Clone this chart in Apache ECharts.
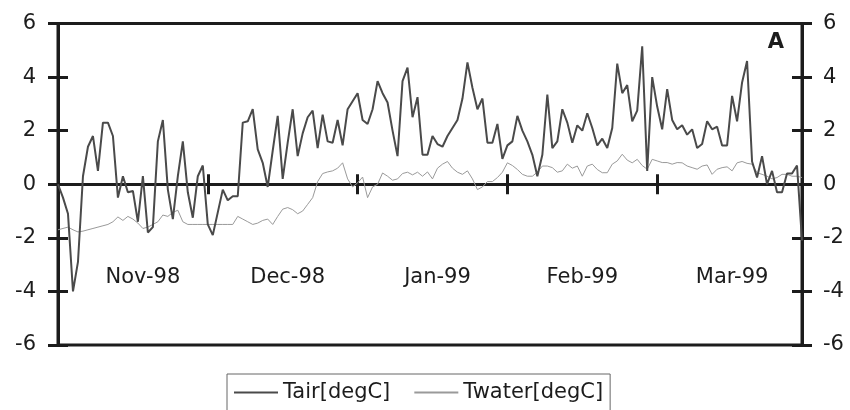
<!DOCTYPE html>
<html><head><meta charset="utf-8">
<script src="https://cdn.jsdelivr.net/npm/echarts@6/dist/echarts.min.js"></script>
<style>html,body{margin:0;padding:0;background:#fff}#c{width:850px;height:410px}</style>
</head><body><div id="c"></div>
<script>
// Daily values, 1 Nov 1998 onwards (150 days)
const tair = [
  0.0, -0.5, -1.1, -4.0, -2.9, 0.3, 1.4, 1.8, 0.5, 2.3,
  2.3, 1.8, -0.5, 0.3, -0.3, -0.25, -1.4, 0.3, -1.8, -1.6,
  1.6, 2.4, -0.2, -1.3, 0.3, 1.6, -0.3, -1.25, 0.3, 0.7,
  -1.5, -1.9, -1.05, -0.2, -0.6, -0.45, -0.45, 2.3, 2.35, 2.8,
  1.3, 0.8, -0.1, 1.25, 2.55, 0.2, 1.55, 2.8, 1.05, 1.9,
  2.5, 2.75, 1.35, 2.6, 1.6, 1.55, 2.4, 1.45, 2.8, 3.1,
  3.4, 2.4, 2.25, 2.8, 3.85, 3.4, 3.05, 2.0, 1.05, 3.85,
  4.35, 2.5, 3.25, 1.1, 1.1, 1.8, 1.5, 1.4, 1.8, 2.1,
  2.4, 3.2, 4.55, 3.6, 2.8, 3.2, 1.55, 1.55, 2.25, 0.95,
  1.45, 1.6, 2.55, 2.0, 1.6, 1.1, 0.3, 1.1, 3.35, 1.35,
  1.6, 2.8, 2.3, 1.55, 2.2, 2.0, 2.65, 2.1, 1.45, 1.7,
  1.35, 2.1, 4.5, 3.4, 3.7, 2.35, 2.75, 5.15, 0.5, 4.0,
  2.9, 2.05, 3.55, 2.4, 2.05, 2.2, 1.85, 2.05, 1.35, 1.5,
  2.35, 2.05, 2.15, 1.45, 1.45, 3.3, 2.35, 3.8, 4.6, 0.85,
  0.25, 1.05, 0.0, 0.5, -0.3, -0.3, 0.4, 0.4, 0.7, -2.1
];
const twater = [
  -1.7, -1.65, -1.6, -1.7, -1.78, -1.75, -1.7, -1.65, -1.6, -1.55,
  -1.5, -1.4, -1.22, -1.35, -1.2, -1.3, -1.45, -1.65, -1.6, -1.5,
  -1.4, -1.15, -1.2, -1.05, -0.97, -1.4, -1.5, -1.5, -1.5, -1.5,
  -1.5, -1.5, -1.5, -1.5, -1.5, -1.5, -1.2, -1.3, -1.4, -1.5,
  -1.45, -1.35, -1.3, -1.5, -1.2, -0.93, -0.87, -0.95, -1.1, -1.0,
  -0.75, -0.5, 0.1, 0.4, 0.46, 0.5, 0.6, 0.8, 0.2, -0.1,
  0.05, 0.27, -0.5, -0.1, 0.0, 0.42, 0.3, 0.15, 0.2, 0.4,
  0.45, 0.35, 0.45, 0.3, 0.46, 0.2, 0.6, 0.75, 0.85, 0.6,
  0.45, 0.37, 0.5, 0.2, -0.2, -0.1, 0.1, 0.1, 0.25, 0.45,
  0.8, 0.7, 0.55, 0.37, 0.3, 0.3, 0.45, 0.68, 0.68, 0.62,
  0.45, 0.5, 0.75, 0.6, 0.68, 0.3, 0.68, 0.75, 0.55, 0.43,
  0.43, 0.75, 0.87, 1.12, 0.9, 0.8, 0.93, 0.7, 0.56, 0.93,
  0.87, 0.81, 0.81, 0.75, 0.81, 0.8, 0.68, 0.62, 0.56, 0.68,
  0.72, 0.37, 0.56, 0.62, 0.65, 0.5, 0.8, 0.85, 0.78, 0.75,
  0.43, 0.37, 0.3, 0.2, 0.25, 0.37, 0.37, 0.3, 0.3, 0.25
];
const seriesNames = ['Tair[degC]', 'Twater[degC]'];
const monthLabels = ['Nov-98', 'Dec-98', 'Jan-99', 'Feb-99', 'Mar-99'];
const monthLabelAt = [17, 46, 76, 105, 135];
const tickAt = [30, 60, 90, 120];
const yMin = -6, yMax = 6, yStep = 2;
const panelLabel = 'A';

const days = [];
{
  const d0 = new Date(Date.UTC(1998, 10, 1));
  for (let i = 0; i < tair.length; i++) {
    const d = new Date(d0.getTime() + i * 86400000);
    days.push(d.toISOString().slice(0, 10));
  }
}

const FONT = 'DejaVu Sans';
const AX = '#1c1c1c';

function yAx(pos, inside, showLabel, margin) {
  return {
    type: 'value', position: pos, min: yMin, max: yMax, interval: yStep,
    axisLine: { show: true, onZero: false, lineStyle: { color: AX, width: 3 } },
    axisTick: { show: true, inside: inside, length: 10, lineStyle: { color: AX, width: 3 } },
    axisLabel: { show: showLabel, margin: margin, color: AX, fontFamily: FONT, fontSize: 21 },
    splitLine: { show: false }
  };
}

const chart = echarts.init(document.getElementById('c'), null, { renderer: 'canvas' });
chart.setOption({
  animation: false,
  backgroundColor: '#ffffff',
  grid: { left: 58, right: 48, top: 23.5, bottom: 65, containLabel: false, outerBoundsMode: 'none',
          show: true, borderColor: AX, borderWidth: 3, backgroundColor: 'transparent' },
  xAxis: [
    {
      type: 'category', data: days, boundaryGap: false,
      axisLine: { show: true, onZero: true, lineStyle: { color: AX, width: 3 } },
      axisTick: { show: true, interval: (i) => tickAt.includes(i), length: 10, lineStyle: { color: AX, width: 3 } },
      axisLabel: { show: false },
      splitLine: { show: false }
    },
    {
      type: 'category', data: days, boundaryGap: false, position: 'bottom',
      axisLine: { show: true, onZero: true, lineStyle: { color: AX, width: 3 } },
      axisTick: { show: true, inside: true, interval: (i) => tickAt.includes(i), length: 10, lineStyle: { color: AX, width: 3 } },
      axisLabel: { show: false },
      splitLine: { show: false }
    },
    {
      type: 'category', data: days, boundaryGap: false, position: 'bottom',
      axisLine: { show: false, onZero: false },
      axisTick: { show: false },
      axisLabel: {
        inside: true,
        interval: (i) => monthLabelAt.includes(i),
        formatter: (v, i) => { const k = monthLabelAt.indexOf(i); return k >= 0 ? monthLabels[k] : ''; },
        margin: 67, verticalAlign: 'middle', color: AX, fontFamily: FONT, fontSize: 21
      },
      splitLine: { show: false }
    }
  ],
  yAxis: [
    yAx('left', false, true, 22),
    yAx('left', true, false, 0),
    yAx('right', false, true, 21),
    yAx('right', true, false, 0)
  ],
  legend: {
    left: 227, top: 374, orient: 'horizontal',
    itemWidth: 44, itemHeight: 14, itemGap: 23,
    padding: [8, 7, 30, 6],
    borderColor: '#666', borderWidth: 1,
    itemStyle: { opacity: 0 },
    textStyle: { fontFamily: FONT, fontSize: 21, color: AX },
    data: seriesNames
  },
  graphic: [{
    type: 'text', z: 100,
    style: { text: panelLabel, x: 776, y: 43, textAlign: 'center', textVerticalAlign: 'middle', font: 'bold 21px "DejaVu Sans"', fill: AX }
  }],
  series: [
    { name: seriesNames[0], type: 'line', data: tair, symbol: 'none', xAxisIndex: 0, yAxisIndex: 0,
      lineStyle: { color: '#4a4a4a', width: 2 }, itemStyle: { color: '#4a4a4a' }, z: 3 },
    { name: seriesNames[1], type: 'line', data: twater, symbol: 'none', xAxisIndex: 0, yAxisIndex: 0,
      lineStyle: { color: '#9a9a9a', width: 1 }, itemStyle: { color: '#9a9a9a' }, z: 2 }
  ]
});
</script>
</body></html>
